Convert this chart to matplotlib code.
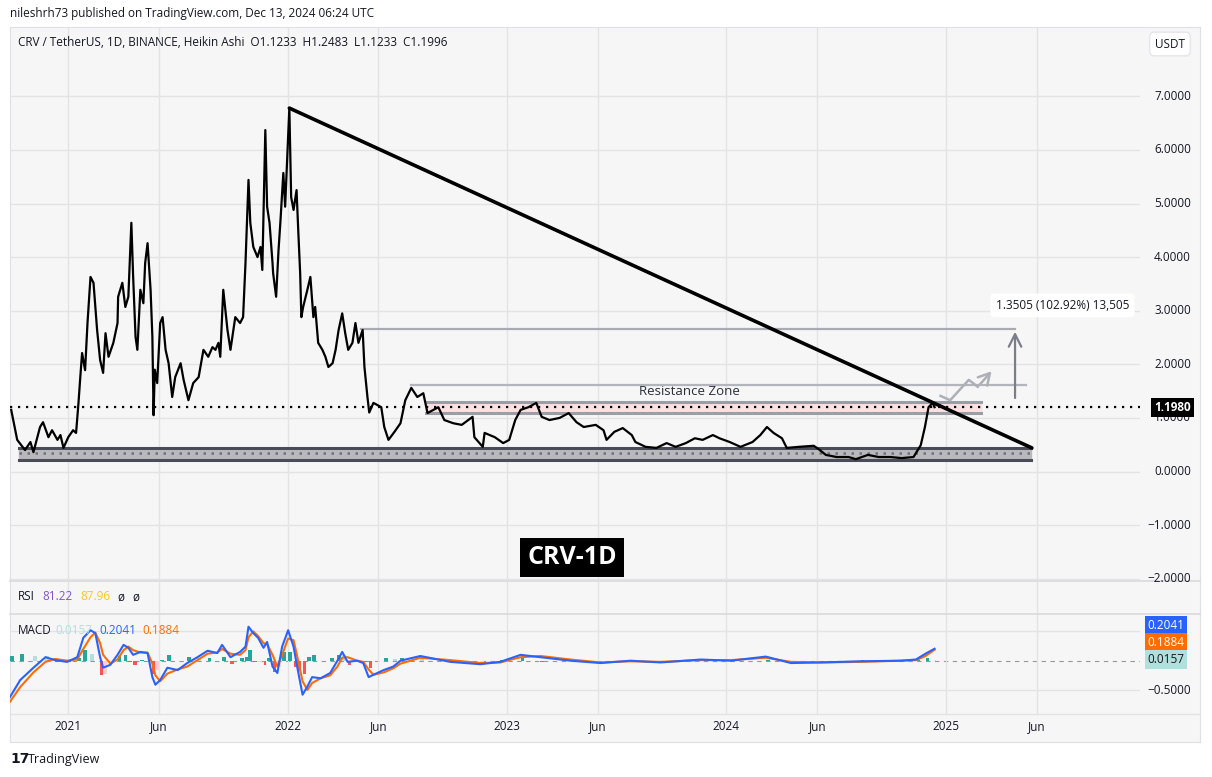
import matplotlib
matplotlib.use("Agg")
import matplotlib.pyplot as plt
import matplotlib.dates as mdates
import pandas as pd
import numpy as np

plt.rcParams['font.family'] = ['Open Sans', 'DejaVu Sans']

# ---------------- data ----------------
price_dates = [
    "2020-09-28", "2020-10-08", "2020-10-21", "2020-10-30", "2020-11-04", "2020-11-15", "2020-11-20",
    "2020-11-29", "2020-12-05", "2020-12-14", "2020-12-19", "2020-12-24", "2021-01-01", "2021-01-09",
    "2021-01-14", "2021-01-18", "2021-01-21", "2021-01-24", "2021-01-29", "2021-02-02", "2021-02-07",
    "2021-02-12", "2021-02-18", "2021-02-23", "2021-02-28", "2021-03-04", "2021-03-09", "2021-03-17",
    "2021-03-24", "2021-03-25", "2021-04-01", "2021-04-06", "2021-04-11", "2021-04-16", "2021-04-19",
    "2021-04-23", "2021-04-26", "2021-05-01", "2021-05-06", "2021-05-09", "2021-05-13", "2021-05-18",
    "2021-05-21", "2021-05-23", "2021-05-25", "2021-05-29", "2021-06-03", "2021-06-07", "2021-06-12",
    "2021-06-17", "2021-06-23", "2021-06-28", "2021-07-07", "2021-07-12", "2021-07-20", "2021-07-28",
    "2021-08-06", "2021-08-09", "2021-08-14", "2021-08-22", "2021-08-29", "2021-09-03", "2021-09-08",
    "2021-09-11", "2021-09-16", "2021-09-23", "2021-09-28", "2021-10-06", "2021-10-14", "2021-10-19",
    "2021-10-23", "2021-10-28", "2021-10-31", "2021-11-05", "2021-11-12", "2021-11-17", "2021-11-20",
    "2021-11-25", "2021-11-28", "2021-12-02", "2021-12-07", "2021-12-08", "2021-12-13", "2021-12-17",
    "2021-12-20", "2021-12-25", "2021-12-28", "2022-01-01", "2022-01-04", "2022-01-07", "2022-01-11",
    "2022-01-16", "2022-01-19", "2022-01-22", "2022-01-24", "2022-01-27", "2022-02-03", "2022-02-08",
    "2022-02-13", "2022-02-16", "2022-02-21", "2022-02-28", "2022-03-05", "2022-03-10", "2022-03-17",
    "2022-03-22", "2022-03-27", "2022-04-02", "2022-04-07", "2022-04-12", "2022-04-19", "2022-04-24",
    "2022-04-29", "2022-05-06", "2022-05-09", "2022-05-14", "2022-05-17", "2022-05-24", "2022-06-06",
    "2022-06-11", "2022-06-18", "2022-06-28", "2022-07-08", "2022-07-16", "2022-07-26", "2022-08-05",
    "2022-08-15", "2022-08-22", "2022-09-09", "2022-09-19", "2022-10-04", "2022-10-18", "2022-11-05",
    "2022-11-08", "2022-11-22", "2022-11-25", "2022-12-12", "2022-12-26", "2023-01-05", "2023-01-15",
    "2023-01-24", "2023-02-06", "2023-02-19", "2023-02-28", "2023-03-13", "2023-03-30", "2023-04-14",
    "2023-04-27", "2023-05-09", "2023-05-29", "2023-06-11", "2023-06-16", "2023-06-29", "2023-07-13",
    "2023-07-28", "2023-08-03", "2023-08-20", "2023-09-07", "2023-09-24", "2023-10-09", "2023-10-26",
    "2023-11-10", "2023-11-23", "2023-12-10", "2023-12-21", "2024-01-07", "2024-01-25", "2024-02-14",
    "2024-02-27", "2024-03-09", "2024-03-20", "2024-04-03", "2024-04-11", "2024-05-01", "2024-05-26",
    "2024-06-05", "2024-06-15", "2024-07-03", "2024-07-23", "2024-08-04", "2024-08-24", "2024-09-11",
    "2024-10-01", "2024-10-19", "2024-11-08", "2024-11-20", "2024-11-27", "2024-11-30", "2024-12-03",
    "2024-12-10", "2024-12-13",
]
price_values = [
    1.15, 0.59, 0.40, 0.55, 0.36, 0.83, 0.92,
    0.64, 0.77, 0.59, 0.68, 0.44, 0.64, 0.77,
    0.72, 1.28, 1.76, 2.21, 1.89, 2.77, 3.63,
    3.52, 2.64, 2.08, 1.84, 2.58, 2.14, 2.40,
    2.77, 3.26, 3.52, 3.07, 3.26, 4.64, 3.63,
    2.51, 2.27, 3.39, 3.14, 3.89, 4.26, 3.39,
    2.51, 1.05, 1.90, 1.65, 2.77, 2.88, 2.27,
    2.02, 1.39, 1.76, 2.02, 1.71, 1.33, 1.65,
    1.76, 1.95, 2.27, 2.14, 2.32, 2.27, 2.40,
    2.14, 3.39, 2.64, 2.27, 2.88, 2.77, 2.88,
    3.89, 5.44, 4.64, 4.19, 4.00, 4.19, 3.76,
    6.37, 4.94, 4.64, 3.89, 3.70, 3.26, 4.13,
    4.64, 5.57, 4.94, 6.00, 6.78, 5.12, 4.88,
    5.25, 4.45, 3.70, 2.88, 3.07, 3.39, 3.63,
    2.88, 3.07, 2.40, 2.27, 2.14, 1.95, 2.02,
    2.27, 2.64, 2.95, 2.58, 2.27, 2.40, 2.77,
    2.40, 2.64, 1.95, 1.39, 1.10, 1.28, 1.20,
    0.83, 0.59, 0.74, 0.90, 1.33, 1.56, 1.39,
    1.46, 1.09, 1.20, 0.96, 0.90, 0.87, 1.02,
    0.64, 0.46, 0.72, 0.64, 0.53, 0.59, 0.96,
    1.15, 1.20, 1.28, 1.02, 0.96, 1.00, 1.09,
    0.92, 0.83, 0.87, 0.77, 0.59, 0.74, 0.81,
    0.68, 0.55, 0.46, 0.44, 0.53, 0.46, 0.53,
    0.62, 0.59, 0.68, 0.62, 0.55, 0.46, 0.55,
    0.68, 0.83, 0.72, 0.62, 0.44, 0.46, 0.48,
    0.40, 0.31, 0.27, 0.27, 0.23, 0.31, 0.27,
    0.27, 0.25, 0.27, 0.49, 0.83, 1.02, 1.20,
    1.28, 1.20,
]
last_price = 1.1980

trend_dates = ["2022-01-04", "2025-05-24"]
trend_values = [6.78, 0.44]

support_dates = ["2020-10-11", "2025-05-22"]
support_low, support_mid, support_high = 0.21, 0.35, 0.44

resist_dates = ["2022-08-19", "2025-02-28"]
resist_low, resist_high = 1.10, 1.29
resist_top_dates = ["2022-07-26", "2025-05-14"]
resist_top_value = 1.61

target_dates = ["2022-05-03", "2025-04-26"]
target_value = 2.66
arrow_base = 1.32

path_dates = ["2024-12-23", "2025-01-08", "2025-02-08", "2025-02-23", "2025-03-21"]
path_values = [1.41, 1.33, 1.71, 1.58, 1.91]

macd_dates = [
    "2020-09-26", "2020-10-13", "2020-11-04", "2020-11-24", "2020-12-10", "2020-12-30", "2021-01-16",
    "2021-01-26", "2021-02-07", "2021-02-15", "2021-02-23", "2021-02-28", "2021-03-12", "2021-03-24",
    "2021-04-03", "2021-04-11", "2021-04-19", "2021-05-01", "2021-05-13", "2021-05-21", "2021-05-26",
    "2021-06-03", "2021-06-15", "2021-07-02", "2021-07-18", "2021-08-04", "2021-08-21", "2021-09-06",
    "2021-09-14", "2021-09-28", "2021-10-14", "2021-10-23", "2021-10-28", "2021-11-05", "2021-11-13",
    "2021-11-22", "2021-11-28", "2021-12-07", "2021-12-15", "2021-12-23", "2022-01-02", "2022-01-11",
    "2022-01-17", "2022-01-26", "2022-02-03", "2022-02-11", "2022-02-25", "2022-03-13", "2022-03-25",
    "2022-04-02", "2022-04-11", "2022-04-27", "2022-05-07", "2022-05-16", "2022-05-24", "2022-06-10",
    "2022-06-26", "2022-07-08", "2022-08-10", "2022-09-29", "2022-11-18", "2022-12-21", "2023-01-24",
    "2023-02-26", "2023-04-17", "2023-06-06", "2023-07-26", "2023-09-14", "2023-11-20", "2024-01-09",
    "2024-03-07", "2024-04-18", "2024-06-06", "2024-08-12", "2024-10-18", "2024-11-12", "2024-11-28",
    "2024-12-13",
]
macd_values = [
    -0.62, -0.33, -0.12, 0.06, 0.01, -0.02, 0.06,
    0.39, 0.52, 0.47, 0.06, -0.12, -0.07, 0.10,
    0.27, 0.22, 0.10, 0.15, 0.13, -0.28, -0.41,
    -0.33, -0.12, -0.16, -0.04, 0.06, 0.17, 0.13,
    0.27, 0.06, 0.15, 0.24, 0.58, 0.47, 0.39,
    0.22, 0.32, -0.10, -0.21, 0.24, 0.52, 0.24,
    -0.10, -0.58, -0.44, -0.28, -0.30, -0.21, 0.00,
    0.15, -0.02, 0.00, -0.04, -0.28, -0.24, -0.16,
    -0.10, 0.00, 0.08, -0.02, -0.06, -0.02, 0.10,
    0.06, 0.00, -0.04, 0.00, -0.03, 0.02, 0.00,
    0.07, -0.04, -0.03, -0.01, 0.00, 0.02, 0.12,
    0.204,
]
signal_values = [
    -0.70, -0.45, -0.20, -0.02, 0.03, 0.00, 0.02,
    0.20, 0.40, 0.48, 0.30, 0.10, -0.05, 0.02,
    0.18, 0.24, 0.18, 0.14, 0.14, -0.05, -0.25,
    -0.35, -0.22, -0.15, -0.10, 0.01, 0.12, 0.14,
    0.20, 0.12, 0.10, 0.18, 0.40, 0.50, 0.42,
    0.30, 0.28, 0.10, -0.10, 0.10, 0.38, 0.35,
    0.08, -0.35, -0.50, -0.38, -0.30, -0.25, -0.10,
    0.05, 0.06, 0.00, -0.02, -0.15, -0.24, -0.20,
    -0.13, -0.05, 0.05, 0.01, -0.04, -0.03, 0.06,
    0.08, 0.02, -0.03, -0.01, -0.02, 0.01, 0.01,
    0.05, -0.02, -0.03, -0.02, 0.00, 0.01, 0.08,
    0.188,
]

x_ticks = ["2021-01-01", "2021-06-01", "2022-01-01", "2022-06-01", "2023-01-01", "2023-06-01",
           "2024-01-01", "2024-06-01", "2025-01-01", "2025-06-01"]
x_tick_labels = ["2021", "Jun", "2022", "Jun", "2023", "Jun", "2024", "Jun", "2025", "Jun"]
price_ticks = [-2, -1, 0, 1, 2, 3, 4, 5, 6, 7]

# ---------------- layout ----------------
W, H = 1212, 777
fig = plt.figure(figsize=(W / 100, H / 100), dpi=100)
fig.patch.set_facecolor("white")

BG = "#f6f6f7"
GRID = "#e3e3e6"
TXT = "#131722"

def rect(x0, y0, x1, y1):
    return [x0 / W, 1 - y1 / H, (x1 - x0) / W, (y1 - y0) / H]

frame = fig.add_axes(rect(10, 27, 1200, 742))
frame.set_facecolor(BG)
frame.set_xticks([]); frame.set_yticks([])
for s in frame.spines.values():
    s.set_color("#e0e0e4")
frame.set_zorder(0)

xlim = (mdates.date2num(pd.Timestamp("2020-09-26")), mdates.date2num(pd.Timestamp("2025-11-20")))
xt = mdates.date2num(pd.to_datetime(x_ticks))

ax = fig.add_axes(rect(10, 27, 1140, 580))
ax.set_facecolor("none")
ax.set_xlim(*xlim)
ax.set_ylim((471.5 - 580) / 53.6, (471.5 - 27) / 53.6)
ax.set_xticks(xt)
ax.set_yticks(price_ticks)
ax.grid(True, color=GRID, lw=1)
ax.tick_params(length=0, labelbottom=False, labelleft=False)
for s in ax.spines.values():
    s.set_visible(False)

pd_dates = mdates.date2num(pd.to_datetime(price_dates))

# support band
sd = mdates.date2num(pd.to_datetime(support_dates))
ax.fill_between(sd, [support_low] * 2, [support_high] * 2, color="#b9b9bd", zorder=2)
ax.plot(sd, [support_high] * 2, color="#4a4d57", lw=2.2, zorder=3)
ax.plot(sd, [support_low] * 2, color="#4a4d57", lw=2.2, zorder=3)
ax.plot(sd, [support_mid] * 2, color="#6e717a", lw=1.8, ls=(0, (1, 2.2)), zorder=3)

# resistance band
rd = mdates.date2num(pd.to_datetime(resist_dates))
ax.fill_between(rd, [resist_low] * 2, [resist_high] * 2, color="#fbe0e2", zorder=2)
ax.plot(rd, [resist_high] * 2, color="#9c9ea6", lw=2.2, zorder=3)
ax.plot(rd, [resist_low] * 2, color="#9c9ea6", lw=2.2, zorder=3)
rtd = mdates.date2num(pd.to_datetime(resist_top_dates))
ax.plot(rtd, [resist_top_value] * 2, color="#b3b5bc", lw=1.6, zorder=3)
ax.text(mdates.date2num(pd.Timestamp("2023-11-01")), 1.50, "Resistance Zone", ha="center", va="center",
        fontsize=9.5, color="#2a2e39", zorder=4)

# target line and arrow
td = mdates.date2num(pd.to_datetime(target_dates))
ax.plot(td, [target_value] * 2, color="#a9abb3", lw=1.6, zorder=3)
ax.annotate("", xy=(td[1], target_value), xytext=(td[1], arrow_base),
            arrowprops=dict(arrowstyle="->,head_length=0.9,head_width=0.45", color="#7b7e87", lw=1.6),
            zorder=4)

# zigzag projection path
pdt = mdates.date2num(pd.to_datetime(path_dates))
ax.plot(pdt[:-1], path_values[:-1], color="#aeb0b7", lw=1.8, zorder=4)
ax.annotate("", xy=(pdt[-1], path_values[-1]), xytext=(pdt[-2], path_values[-2]),
            arrowprops=dict(arrowstyle="->,head_length=0.8,head_width=0.45", color="#aeb0b7", lw=1.8),
            zorder=4)

# last price dotted line
ax.axhline(last_price, color="black", lw=1.6, ls=(0, (1, 2.6)), zorder=5)

# price line
ax.plot(pd_dates, price_values, color="black", lw=1.6, zorder=6)

# trendline
trd = mdates.date2num(pd.to_datetime(trend_dates))
ax.plot(trd, trend_values, color="black", lw=2.6, solid_capstyle="round", zorder=7)

# measurement label
ax.text(mdates.date2num(pd.Timestamp("2025-03-25")), 3.1, "1.3505 (102.92%) 13,505", ha="left", va="center",
        fontsize=8.5, color=TXT, zorder=8,
        bbox=dict(boxstyle="round,pad=0.45,rounding_size=0.3", fc="white", ec="none"))

# CRV-1D label
ax.text(mdates.date2num(pd.Timestamp("2023-04-20")), -1.6, "CRV-1D", ha="center", va="center",
        fontsize=18, fontweight="bold", color="white", zorder=8,
        bbox=dict(boxstyle="square,pad=0.28", fc="black", ec="none"))

# price axis labels
for p in price_ticks:
    y = 471.5 - p * 53.6
    lbl = f"{p:.4f}".replace("-", "\u2212")
    fig.text(1191 / W, 1 - y / H, lbl, ha="right", va="center", fontsize=8.5, color=TXT)
ylp = 471.5 - last_price * 53.6
fig.text(1191 / W, 1 - ylp / H, f"{last_price:.4f}", ha="right", va="center", fontsize=8.5,
         color="white", fontweight="bold",
         bbox=dict(boxstyle="square,pad=0.25", fc="black", ec="none"))

# USDT box
fig.text(1170 / W, 1 - 44 / H, "USDT", ha="center", va="center", fontsize=8.5, color=TXT,
         bbox=dict(boxstyle="round,pad=0.45,rounding_size=0.4", fc="white", ec="#e6e6ea"))

# separators
for yy in (581, 614):
    fig.add_artist(plt.Line2D([10 / W, 1200 / W], [1 - yy / H] * 2, color="#d8d8de", lw=1.2))
fig.add_artist(plt.Line2D([10 / W, 1200 / W], [1 - 714 / H] * 2, color="#e3e3e6", lw=1))

# RSI pane (collapsed)
rsi_ax = fig.add_axes(rect(10, 582, 1140, 614))
rsi_ax.set_facecolor("none")
rsi_ax.set_xlim(*xlim)
rsi_ax.set_xticks(xt); rsi_ax.set_yticks([])
rsi_ax.grid(True, axis="x", color=GRID, lw=1)
rsi_ax.tick_params(length=0, labelbottom=False)
for s in rsi_ax.spines.values():
    s.set_visible(False)

def legend_row(y, items):
    for x, t, c in items:
        fig.text(x / W, 1 - y / H, t, ha="left", va="center", fontsize=8.5, color=c)

legend_row(597, [(18, "RSI", TXT), (42, "81.22", "#7e57c2"), (80, "87.96", "#f7c91c"),
                 (117, "\u00f8", TXT), (132, "\u00f8", TXT)])

# MACD pane
m_ax = fig.add_axes(rect(10, 614, 1140, 714))
m_ax.set_facecolor("none")
m_ax.set_xlim(*xlim)
m_ax.set_ylim((660.7 - 714) / 58.6, (660.7 - 614) / 58.6)
m_ax.set_xticks(xt); m_ax.set_yticks([-0.5, 0.5])
m_ax.grid(True, color=GRID, lw=1)
m_ax.tick_params(length=0, labelbottom=False, labelleft=False)
for s in m_ax.spines.values():
    s.set_visible(False)

md = mdates.date2num(pd.to_datetime(macd_dates))
mv = np.array(macd_values)
sv = np.array(signal_values)
hist = mv - sv
gaps = np.diff(md, append=md[-1] + 4)
prev = np.concatenate([[hist[0]], hist[:-1]])
cols = []
for h, p in zip(hist, prev):
    if h >= 0:
        cols.append("#26a69a" if h >= p else "#b2dfdb")
    else:
        cols.append("#ff5252" if h < p else "#ffcdd2")
m_ax.bar(md, hist, width=np.minimum(gaps, 8) * 0.8, color=cols, align="edge", zorder=2)
m_ax.axhline(0, color="#9598a1", lw=0.8, ls=(0, (4, 4)), zorder=1)
m_ax.plot(md, sv, color="#ff6d00", lw=1.5, zorder=3)
m_ax.plot(md, mv, color="#2962ff", lw=1.5, zorder=4)

legend_row(630, [(18, "MACD", TXT), (55, "0.0157", "#b2dfdb"), (99, "0.2041", "#2962ff"),
                 (142, "0.1884", "#ff6d00")])

for yy, t, fc, tc in [(625.5, "0.2041", "#2962ff", "white"), (642.5, "0.1884", "#ff6d00", "white"),
                      (659.5, "0.0157", "#b2dfdb", TXT)]:
    fig.text(1166 / W, 1 - yy / H, t, ha="center", va="center", fontsize=8.5, color=tc,
             bbox=dict(boxstyle="square,pad=0.22", fc=fc, ec="none"))
fig.text(1191 / W, 1 - 690 / H, "\u22120.5000", ha="right", va="center", fontsize=8.5, color=TXT)

# x axis labels
for d, l in zip(xt, x_tick_labels):
    xp = 10 + (d - xlim[0]) / (xlim[1] - xlim[0]) * 1130
    fig.text(xp / W, 1 - 727 / H, l, ha="center", va="center", fontsize=8.5, color=TXT)

# header texts
fig.text(10 / W, 1 - 14 / H, "nileshrh73 published on TradingView.com, Dec 13, 2024 06:24 UTC",
         ha="left", va="center", fontsize=8.5, color=TXT)
fig.text(18 / W, 1 - 42 / H, "CRV / TetherUS, 1D, BINANCE, Heikin Ashi  O1.1233  H1.2483  L1.1233  C1.1996",
         ha="left", va="center", fontsize=8.5, color=TXT)

# footer logo
fig.text(10 / W, 1 - 759 / H, "17", ha="left", va="center", fontsize=10, fontweight="bold",
         color=TXT, family="DejaVu Sans")
fig.text(28 / W, 1 - 759 / H, "TradingView", ha="left", va="center", fontsize=9, color=TXT)

fig.savefig("out.png", dpi=100, facecolor="white")
